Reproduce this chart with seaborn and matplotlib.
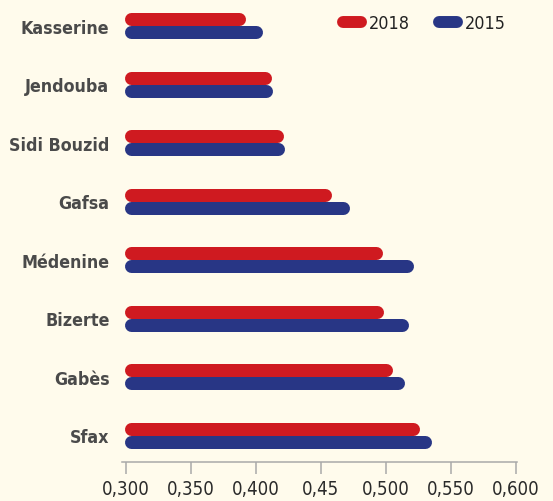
import numpy as np
import pandas as pd
import seaborn as sns
import matplotlib
matplotlib.use("Agg")
import matplotlib.pyplot as plt
from matplotlib import font_manager as fm
from matplotlib.lines import Line2D

# ---- data ----
regions = ["Kasserine", "Jendouba", "Sidi Bouzid", "Gafsa", "Médenine", "Bizerte", "Gabès", "Sfax"]
values_2018 = [0.392, 0.412, 0.421, 0.458, 0.497, 0.498, 0.505, 0.526]
values_2015 = [0.405, 0.413, 0.422, 0.472, 0.521, 0.517, 0.514, 0.535]
years = ["2018", "2015"]
tick_values = [0.300, 0.350, 0.400, 0.450, 0.500, 0.550, 0.600]
tick_labels = ["0,300", "0,350", "0,400", "0,45", "0,500", "0,550", "0,600"]

colors = {"2018": "#cf1a20", "2015": "#283685"}
BG = "#fffbec"

df = pd.DataFrame({
    "region": regions * 2,
    "year": ["2018"] * len(regions) + ["2015"] * len(regions),
    "value": values_2018 + values_2015,
})

sns.set_theme(style="white")
names = {f.name for f in fm.fontManager.ttflist}
if "Liberation Sans Narrow" in names:
    FONT, STRETCH, SCALE = "Liberation Sans Narrow", "normal", 1.0
elif "DejaVu Sans" in names:
    FONT, STRETCH, SCALE = "DejaVu Sans", "condensed", 0.85
else:
    FONT, STRETCH, SCALE = "sans-serif", "normal", 0.85
plt.rcParams["font.family"] = [FONT, "DejaVu Sans"]
plt.rcParams["font.stretch"] = STRETCH

DPI = 100
W, H = 553, 502
fig = plt.figure(figsize=(W / DPI, H / DPI), dpi=DPI, facecolor=BG)
ax_l, ax_r, ax_b, ax_t = 122, 517, 39, 502
ax = fig.add_axes([ax_l / W, ax_b / H, (ax_r - ax_l) / W, (ax_t - ax_b) / H])
ax.set_facecolor(BG)

sns.barplot(data=df, y="region", x="value", hue="year", hue_order=years,
            palette=colors, orient="h", width=0.445, ax=ax, legend=False,
            order=regions, saturation=1)

XMIN, XMAX = 0.2969, 0.6008
ax.set_xlim(XMIN, XMAX)
ax.set_ylim(7.462, -0.462)
BASE = 0.2985

# convert bars into pills with rounded ends
fig.canvas.draw()
ax_h_px = (ax_t - ax_b)
ax_w_px = (ax_r - ax_l)
ypx_per_unit = ax_h_px / abs(ax.get_ylim()[0] - ax.get_ylim()[1])
xpx_per_unit = ax_w_px / (XMAX - XMIN)
for p in list(ax.patches):
    x0, y0 = p.get_x(), p.get_y()
    w, h = p.get_width(), p.get_height()
    col = p.get_facecolor()
    p.set_visible(False)
    h_px = abs(h) * ypx_per_unit
    lw_pt = h_px * 72 / DPI
    r = (h_px / 2) / xpx_per_unit
    yc = y0 + h / 2
    ax.plot([BASE + r, x0 + w - r], [yc, yc], color=col, lw=lw_pt,
            solid_capstyle="round", zorder=3)

# axes styling
for s in ["top", "right", "left"]:
    ax.spines[s].set_visible(False)
ax.spines["bottom"].set_color("#a9a9a9")
ax.spines["bottom"].set_linewidth(1.1)
ax.set_xticks(tick_values)
ax.set_xticklabels(tick_labels)
ax.tick_params(axis="x", length=8.6, width=1.1, color="#a9a9a9", pad=4,
               labelsize=15.8 * SCALE, labelcolor="#2a2a2a", bottom=True)
ax.tick_params(axis="y", length=0, pad=9, labelsize=15.0 * SCALE, labelcolor="#4a4a4a", left=False)
for t in ax.get_yticklabels():
    t.set_fontweight("bold")
ax.set_xlabel("")
ax.set_ylabel("")
ax.grid(False)

# legend
fs = 15.2 * SCALE
handles = [Line2D([0], [0], color=colors[y], lw=8.6, solid_capstyle="round") for y in years]
leg = fig.legend(handles, years, ncol=2, loc="upper right",
                 bbox_to_anchor=(506 / W, 1 - 15 / H), frameon=False,
                 handlelength=13.2 / fs, handletextpad=5.8 / fs, columnspacing=20.5 / fs,
                 borderpad=0, borderaxespad=0, prop={"size": fs})
for t in leg.get_texts():
    t.set_color("#222222")

fig.savefig("out.png", dpi=DPI, facecolor=BG)
